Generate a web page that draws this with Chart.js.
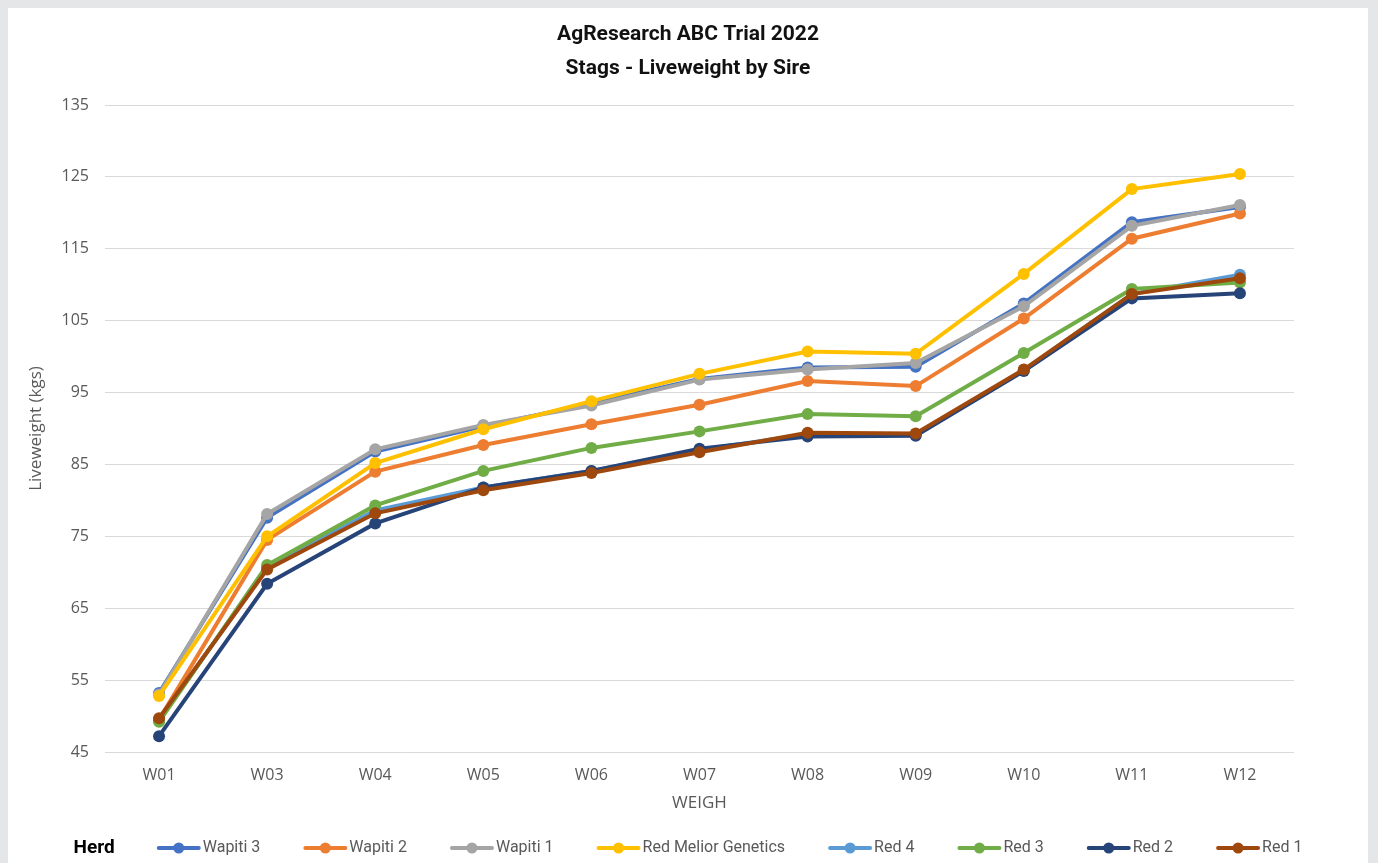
<!DOCTYPE html>
<html><head><meta charset="utf-8">
<script src="https://cdn.jsdelivr.net/npm/chart.js@4.4.1/dist/chart.umd.min.js"></script>
<style>
html,body{margin:0;padding:0;background:#e5e6e8;width:1378px;height:863px;overflow:hidden}
#wrap{position:absolute;left:8px;top:8px;width:1360px;height:855px;background:#fff}
canvas{display:block}
</style></head><body><div id="wrap"><canvas id="c" width="1360" height="855"></canvas></div>
<script>
const categories = ['W01','W03','W04','W05','W06','W07','W08','W09','W10','W11','W12'];
const seriesNames = ['Wapiti 3','Wapiti 2','Wapiti 1','Red Melior Genetics','Red 4','Red 3','Red 2','Red 1'];
const wapiti3 = [53.2, 77.6, 86.8, 90.3, 93.5, 96.9, 98.5, 98.6, 107.4, 118.7, 120.8];
const wapiti2 = [49.5, 74.5, 84.0, 87.7, 90.6, 93.3, 96.6, 95.9, 105.3, 116.4, 119.9];
const wapiti1 = [53.0, 78.1, 87.1, 90.5, 93.2, 96.8, 98.2, 99.1, 107.0, 118.2, 121.1];
const redMelior = [52.8, 75.0, 85.2, 89.9, 93.8, 97.6, 100.7, 100.4, 111.5, 123.3, 125.4];
const red4 = [49.4, 70.7, 78.6, 81.8, 84.1, 87.0, 89.2, 89.1, 98.1, 108.7, 111.4];
const red3 = [49.2, 71.0, 79.3, 84.1, 87.3, 89.6, 92.0, 91.7, 100.5, 109.4, 110.3];
const red2 = [47.2, 68.4, 76.8, 81.8, 84.1, 87.2, 88.9, 89.0, 98.0, 108.1, 108.8];
const red1 = [49.7, 70.4, 78.2, 81.4, 83.8, 86.7, 89.4, 89.3, 98.2, 108.7, 110.9];
const seriesValues = [wapiti3, wapiti2, wapiti1, redMelior, red4, red3, red2, red1];
const colors = ['#4472C4','#ED7D31','#A5A5A5','#FFC000','#5B9BD5','#70AD47','#264478','#9E480E'];
const yTickMin = 45, yTickMax = 135, yTickStep = 10;
const titleLines = ['AgResearch ABC Trial 2022','Stags - Liveweight by Sire'];
const xTitle = 'WEIGH';
const yTitle = 'Liveweight (kgs)';
const legendTitle = 'Herd';

const datasets = seriesNames.map((n, i) => ({
  label: n,
  data: seriesValues[i],
  yAxisID: 'y',
  borderColor: colors[i],
  backgroundColor: colors[i],
  pointBackgroundColor: colors[i],
  pointBorderColor: colors[i],
  borderWidth: 4,
  pointRadius: 6,
  pointBorderWidth: 0,
  tension: 0,
  order: seriesNames.length - 1 - i
}));

const herdLegend = {
  id: 'herdLegend',
  afterDraw(chart) {
    const ctx = chart.ctx;
    const y = 840;
    ctx.save();
    ctx.textBaseline = 'middle';
    ctx.font = 'bold 19px Roboto';
    const titleW = ctx.measureText(legendTitle).width;
    ctx.font = '16px Roboto';
    const markW = 42, gapMT = 3, gapItem = 44, gapTitle = 43;
    const items = chart.data.datasets.map(d => ({label: d.label, color: d.borderColor, w: ctx.measureText(d.label).width}));
    let total = titleW + gapTitle;
    items.forEach((it, i) => { total += markW + gapMT + it.w + (i < items.length - 1 ? gapItem : 0); });
    let x = (chart.width - total) / 2;
    ctx.font = 'bold 19px Roboto';
    ctx.fillStyle = '#000';
    ctx.textAlign = 'left';
    ctx.fillText(legendTitle, x, y);
    x += titleW + gapTitle;
    ctx.font = '16px Roboto';
    items.forEach(it => {
      ctx.strokeStyle = it.color;
      ctx.lineWidth = 4;
      ctx.lineCap = 'round';
      ctx.beginPath(); ctx.moveTo(x + 1, y); ctx.lineTo(x + markW - 1, y); ctx.stroke();
      ctx.fillStyle = it.color;
      ctx.beginPath(); ctx.arc(x + markW / 2, y, 5.5, 0, Math.PI * 2); ctx.fill();
      x += markW + gapMT;
      ctx.fillStyle = '#595959';
      ctx.fillText(it.label, x, y);
      x += it.w + gapItem;
    });
    ctx.restore();
  }
};

const tickFont = {family: 'Open Sans', size: 16};
const axisTitleFont = {family: 'Open Sans', size: 17};
new Chart(document.getElementById('c'), {
  type: 'line',
  data: {labels: categories, datasets},
  plugins: [herdLegend],
  options: {
    responsive: false,
    animation: false,
    devicePixelRatio: 1,
    layout: {padding: {left: 0, right: 0, top: 0, bottom: 41}},
    plugins: {
      legend: {display: false},
      tooltip: {enabled: false},
      title: {
        display: true,
        text: titleLines,
        color: '#111',
        font: {family: 'Roboto', size: 21, weight: 'bold', lineHeight: '34px'},
        padding: {top: 10, bottom: 19}
      }
    },
    scales: {
      x: {
        offset: true,
        grid: {display: false},
        border: {display: false},
        ticks: {font: tickFont, color: '#595959', padding: 6},
        title: {display: true, text: xTitle, font: axisTitleFont, color: '#595959', padding: {top: 0, bottom: 9}},
        afterFit(s) { s.height = 70; }
      },
      y: {
        position: 'left',
        min: yTickMin, max: yTickMax,
        ticks: {stepSize: yTickStep, font: tickFont, color: '#595959', padding: 16},
        grid: {color: '#d9d9d9', lineWidth: 1, drawTicks: false},
        border: {display: false},
        title: {display: true, text: yTitle, font: axisTitleFont, color: '#595959', padding: {top: 18, bottom: 0}},
        afterFit(s) { s.width = 97; }
      },
      yRight: {
        position: 'right',
        display: true,
        grid: {display: false},
        border: {display: false},
        ticks: {display: false},
        afterFit(s) { s.width = 74; }
      }
    }
  }
});
</script></body></html>
